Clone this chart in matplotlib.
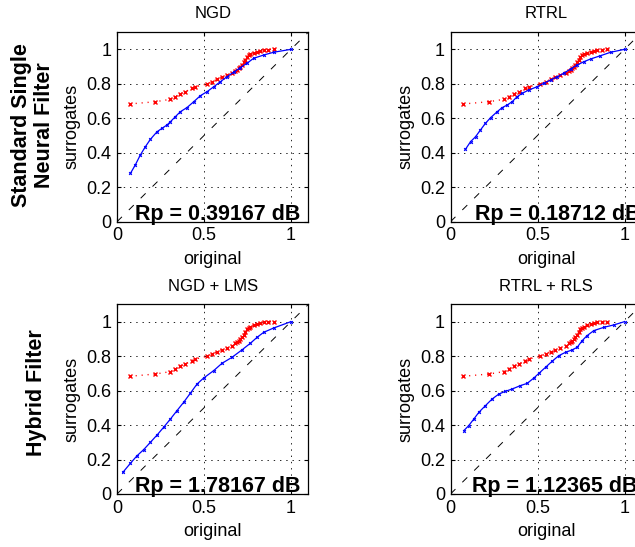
import matplotlib
matplotlib.use('Agg')
import matplotlib.pyplot as plt

plt.rcParams['font.family'] = ['Liberation Sans', 'DejaVu Sans']
plt.rcParams['lines.scale_dashes'] = False

# Red: surrogate quantiles (same in every panel)
red_x = [0.073, 0.22, 0.307, 0.335, 0.364, 0.393, 0.431, 0.45, 0.517, 0.546,
         0.575, 0.603, 0.632, 0.661, 0.68, 0.69, 0.699, 0.709, 0.718, 0.728,
         0.738, 0.747, 0.757, 0.766, 0.785, 0.805, 0.824, 0.843, 0.87, 0.9]
red_y = [0.683, 0.696, 0.71, 0.725, 0.743, 0.754, 0.774, 0.783, 0.799, 0.812,
         0.826, 0.838, 0.849, 0.861, 0.874, 0.882, 0.89, 0.9, 0.909, 0.925,
         0.938, 0.957, 0.965, 0.971, 0.979, 0.986, 0.991, 0.996, 0.999, 1.0]

# Blue: one curve per filter
ngd_x = [0.077, 0.105, 0.134, 0.163, 0.192, 0.23, 0.259, 0.287, 0.307, 0.335,
         0.364, 0.402, 0.441, 0.479, 0.517, 0.556, 0.594, 0.632, 0.67, 0.709,
         0.747, 0.785, 0.843, 0.9, 1.0]
ngd_y = [0.28, 0.329, 0.387, 0.435, 0.478, 0.522, 0.542, 0.561, 0.58, 0.609,
         0.638, 0.662, 0.696, 0.731, 0.754, 0.783, 0.812, 0.841, 0.867, 0.894,
         0.919, 0.948, 0.967, 0.983, 1.0]

rtrl_x = [0.086, 0.115, 0.144, 0.172, 0.201, 0.23, 0.268, 0.297, 0.326, 0.354,
          0.383, 0.412, 0.45, 0.498, 0.536, 0.575, 0.613, 0.651, 0.69, 0.728,
          0.766, 0.805, 0.862, 0.92, 1.0]
rtrl_y = [0.42, 0.464, 0.493, 0.532, 0.571, 0.603, 0.638, 0.662, 0.677, 0.696,
          0.725, 0.745, 0.764, 0.783, 0.803, 0.822, 0.841, 0.861, 0.886, 0.909,
          0.928, 0.944, 0.963, 0.983, 1.0]

lms_x = [0.034, 0.077, 0.115, 0.153, 0.192, 0.23, 0.268, 0.307, 0.345, 0.383,
         0.421, 0.46, 0.498, 0.556, 0.603, 0.661, 0.718, 0.766, 0.805, 0.843,
         0.9, 1.0]
lms_y = [0.126, 0.178, 0.222, 0.257, 0.3, 0.342, 0.387, 0.435, 0.484, 0.532,
         0.584, 0.638, 0.673, 0.716, 0.758, 0.793, 0.836, 0.874, 0.909, 0.938,
         0.963, 1.0]

rls_x = [0.077, 0.105, 0.134, 0.163, 0.201, 0.239, 0.278, 0.316, 0.354, 0.402,
         0.441, 0.479, 0.508, 0.546, 0.584, 0.623, 0.661, 0.699, 0.728, 0.757,
         0.785, 0.824, 0.881, 0.939, 1.0]
rls_y = [0.368, 0.397, 0.435, 0.474, 0.513, 0.551, 0.58, 0.596, 0.609, 0.629,
         0.642, 0.673, 0.7, 0.735, 0.77, 0.803, 0.822, 0.836, 0.851, 0.89,
         0.919, 0.948, 0.967, 0.981, 1.0]

titles = ['NGD', 'RTRL', 'NGD + LMS', 'RTRL + RLS']
rp_labels = ['Rp = 0.39167 dB', 'Rp = 0.18712 dB', 'Rp = 1.78167 dB', 'Rp = 1.12365 dB']
rp_x = [0.105, 0.138, 0.105, 0.125]
blue_x = [ngd_x, rtrl_x, lms_x, rls_x]
blue_y = [ngd_y, rtrl_y, lms_y, rls_y]

W, H = 635, 547
fig = plt.figure(figsize=(W / 100, H / 100), dpi=100)
aw, ah = 191.4 / W, 189.6 / H
lefts = [117 / W, 450.5 / W, 117 / W, 450.5 / W]
bottoms = [(H - 221.7) / H, (H - 221.7) / H, (H - 494) / H, (H - 494) / H]

for i in range(4):
    ax = fig.add_axes([lefts[i], bottoms[i], aw, ah])
    ax.plot([0, 1.1], [0, 1.1], color='black', lw=0.7, ls=(0, (5, 7)))
    ax.plot(red_x, red_y, color='red', ls=(0, (0.8, 3.5)), lw=1.0,
            marker='x', ms=2.5, mew=1.0)
    ax.plot(blue_x[i], blue_y[i], color='blue', lw=0.9,
            marker='x', ms=2.0, mew=0.8)
    ax.set_xlim(0, 1.1)
    ax.set_ylim(0, 1.1)
    ax.set_xticks([0, 0.5, 1])
    ax.set_xticklabels(['0', '0.5', '1'])
    ax.set_yticks([0, 0.2, 0.4, 0.6, 0.8, 1])
    ax.set_yticklabels(['0', '0.2', '0.4', '0.6', '0.8', '1'])
    ax.grid(True, color='black', lw=0.6, ls=(0, (1, 3.5)))
    ax.tick_params(direction='in', length=3, width=0.8, labelsize=13,
                   top=True, right=True, pad=4)
    for s in ax.spines.values():
        s.set_linewidth(0.9)
    ax.set_title(titles[i], fontsize=12, pad=10)
    ax.set_xlabel('original', fontsize=13)
    ax.set_ylabel('surrogates', fontsize=13)
    ax.xaxis.set_label_coords(0.5, -0.155)
    ax.yaxis.set_label_coords(-0.19, 0.5)
    ax.text(rp_x[i], 0.012, rp_labels[i], fontsize=15.5, fontweight='bold',
            va='baseline', ha='left')

fig.text(33 / W, 1 - 125 / H, 'Standard Single\nNeural Filter', rotation=90,
         ha='center', va='center', multialignment='center',
         fontsize=15.5, fontweight='bold', linespacing=1.15)
fig.text(36.5 / W, 1 - 393 / H, 'Hybrid Filter', rotation=90,
         ha='center', va='center', fontsize=15.5, fontweight='bold')

fig.savefig('out.png', dpi=100)
